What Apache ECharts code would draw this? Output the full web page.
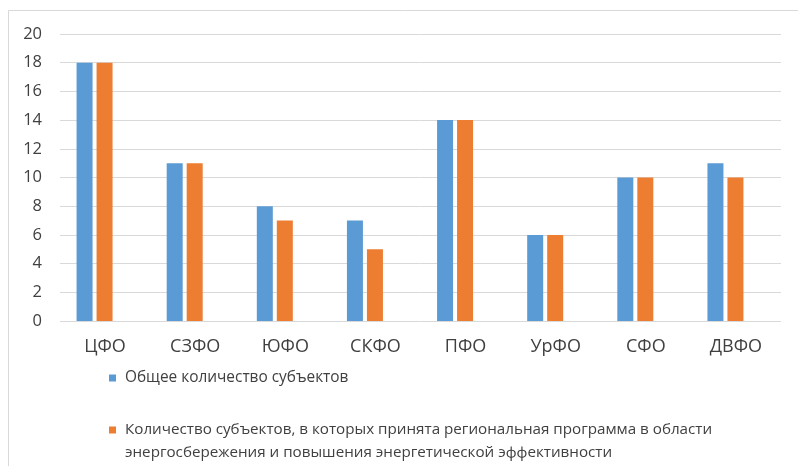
<!DOCTYPE html>
<html><head><meta charset="utf-8">
<script src="https://cdn.jsdelivr.net/npm/echarts@6/dist/echarts.min.js"></script>
<style>html,body{margin:0;padding:0;background:#fff}#c{width:798px;height:466px}</style>
</head><body><div id="c"></div>
<script>
const categories = ['ЦФО','СЗФО','ЮФО','СКФО','ПФО','УрФО','СФО','ДВФО'];
const totalSubjects = [18, 11, 8, 7, 14, 6, 10, 11];
const programSubjects = [18, 11, 7, 5, 14, 6, 10, 10];
const seriesNames = ['Общее количество субъектов',
  'Количество субъектов, в которых принята региональная программа в области энергосбережения и повышения энергетической эффективности'];
const legendLines = {
  [seriesNames[1]]: ' \nКоличество субъектов, в которых принята региональная программа в области\nэнергосбережения и повышения энергетической эффективности'
};
const yTicks = {min: 0, max: 20, interval: 2};

const font = 'Open Sans, sans-serif';
const LH = 23;
const legendBase = {
  orient:'vertical', left:109, padding:0,
  itemWidth:7, itemHeight:7, icon:'rect',
  formatter: n => legendLines[n] || n
};
const chart = echarts.init(document.getElementById('c'));
chart.setOption({
  animation: false,
  graphic: [{type:'rect', shape:{x:8.5,y:10.5,width:800,height:470}, style:{fill:'none', stroke:'#d9d9d9', lineWidth:1}, silent:true, z:-1}],
  grid: [
    {left: 60, right: 17, top: 34, bottom: 145},
    {left: 49.5, right: 27.5, top: 34, bottom: 145}
  ],
  xAxis: [
    {gridIndex:0, type:'category', data: categories,
     axisLine:{show:false}, axisTick:{show:false},
     axisLabel:{color:'#404040', fontSize:18, fontFamily:font, margin:17}},
    {gridIndex:1, type:'category', data: categories, show:false}
  ],
  yAxis: [
    {gridIndex:0, type:'value', min:yTicks.min, max:yTicks.max, interval:yTicks.interval,
     axisLine:{show:false}, axisTick:{show:false},
     axisLabel:{color:'#404040', fontSize:16.5, fontFamily:font, margin:18},
     splitLine:{lineStyle:{color:'#d9d9d9', width:1}}},
    {gridIndex:1, type:'value', min:yTicks.min, max:yTicks.max, interval:yTicks.interval, show:false}
  ],
  legend: [
    Object.assign({}, legendBase, {top:366.5, data:[seriesNames[0]],
      textStyle:{color:'#404040', fontSize:15.4, fontFamily:font, lineHeight:LH, padding:[0,0,0,4]}}),
    Object.assign({}, legendBase, {top:395.5, data:[seriesNames[1]],
      textStyle:{color:'#404040', fontSize:15.2, fontFamily:font, lineHeight:LH, padding:[0,0,0,4]}})
  ],
  series: [
    {name: seriesNames[0], type:'bar', xAxisIndex:1, yAxisIndex:1, data: totalSubjects,
     barWidth:16, barGap:'25%', itemStyle:{color:'#5B9BD5'}},
    {name: seriesNames[1], type:'bar', xAxisIndex:1, yAxisIndex:1, data: programSubjects,
     barWidth:16, barGap:'25%', itemStyle:{color:'#ED7D31'}}
  ]
});
</script></body></html>
